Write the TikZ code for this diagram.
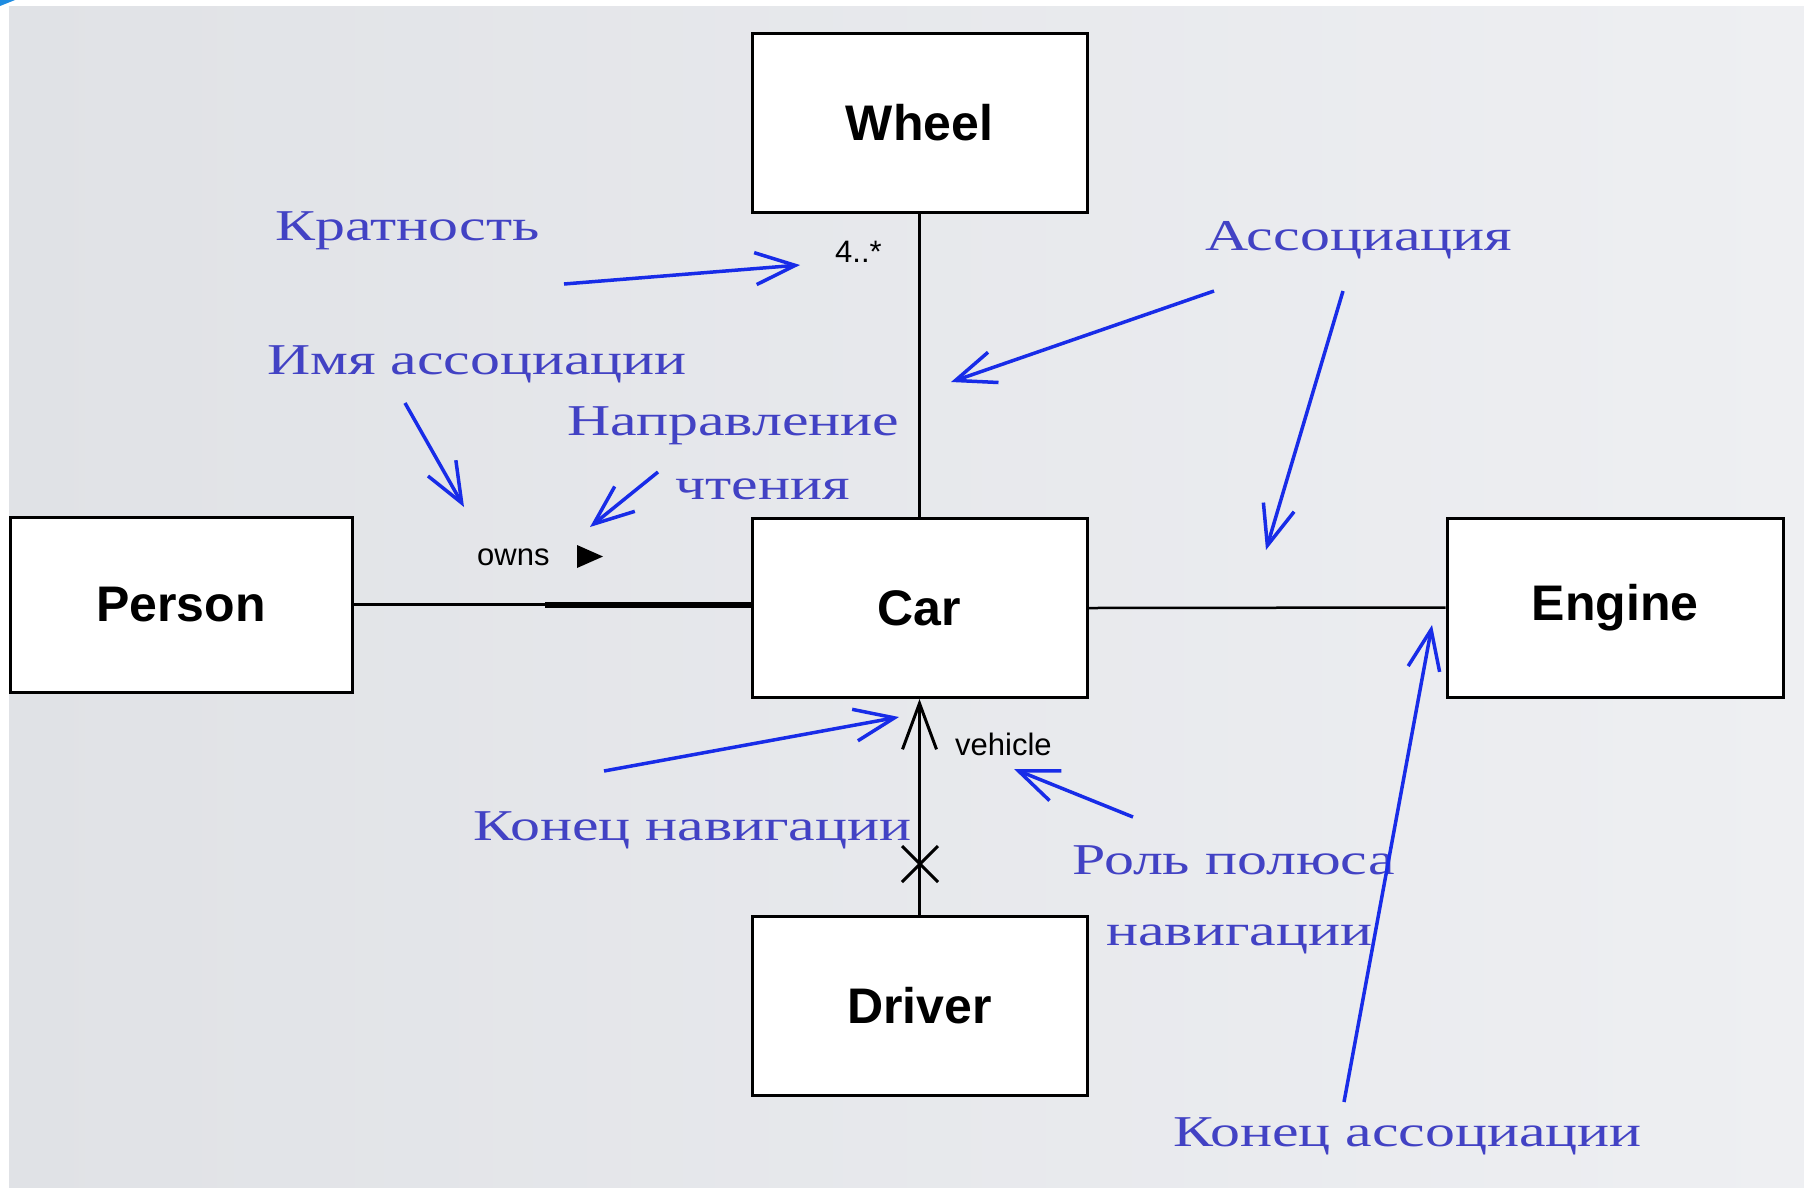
\documentclass[tikz,border=0pt]{standalone}
\usepackage{fontspec}
\setmainfont{Liberation Serif}
\newfontfamily\annfont[FakeStretch=1.36]{Liberation Serif}
\newfontfamily\umlfont{Liberation Sans}
\usetikzlibrary{arrows.meta,calc}
\definecolor{anntext}{RGB}{66,66,196}
\definecolor{annarrow}{RGB}{24,44,232}
\definecolor{bgleft}{RGB}{224,226,230}
\definecolor{bgright}{RGB}{238,239,242}
\definecolor{cornerblue}{RGB}{30,140,225}
\begin{document}
\begin{tikzpicture}[x=1pt,y=-1pt,
  cls/.style={draw=black, line width=3pt, fill=white, minimum width=335pt, minimum height=179pt, inner sep=0pt, font=\umlfont\bfseries\fontsize{50}{60}\selectfont},
  anntxt/.style={text=anntext, inner sep=0pt, anchor=base west, font=\annfont\fontsize{44}{50}\selectfont},
  lbl/.style={inner sep=0pt, anchor=base west, font=\umlfont\fontsize{31}{36}\selectfont},
  assocline/.style={line width=3pt},
  annarr/.style={annarrow, line width=3.5pt, -{Straight Barb[length=40pt,width=32pt]}},
  navarr/.style={line width=3pt, -{Straight Barb[length=46pt,width=34pt]}}]
\useasboundingbox (0,0) rectangle (1804,1187);
\fill[white] (0,0) rectangle (1804,1187);
\shade[left color=bgleft,right color=bgright] (9,6) rectangle (1804,1187);
\fill[cornerblue] (0,0) -- (15,0) -- (0,6) -- cycle;

% classes
\node[cls] (Wheel) at (919.5,122.5) {Wheel};
\node[cls] (Car) at (919.5,608) {Car};
\node[cls, minimum width=342pt, minimum height=175pt] (Person) at (181,604.5) {Person};
\node[cls, minimum width=336pt] (Engine) at (1615,607.5) {Engine};
\node[cls] (Driver) at (919.5,1006) {Driver};

% associations
\draw[assocline] (Wheel.south) -- (Car.north);
\draw[line width=3.5pt] (Person.east) -- (Person.east -| Car.west);
\coordinate (thickstart) at (545,604.5);
\draw[line width=6pt] (thickstart) -- (thickstart -| Car.west);
\draw[line width=2.5pt] (Car.east) -- (Engine.west);
\draw[navarr] (Driver.north) -- (Car.south);
\coordinate (xc) at (920,864);
\draw[line width=3pt] ($(xc)+(-18,-18)$) -- ($(xc)+(18,18)$);
\draw[line width=3pt] ($(xc)+(18,-18)$) -- ($(xc)+(-18,18)$);

% small labels
\node[lbl, font=\umlfont\fontsize{31}{36}\selectfont] (mult) at (835,262) {4..*};
\node[lbl] (owns) at (477,565) {owns};
\coordinate (tri) at (577,545);
\fill (tri) -- ++(26,11.5) -- ++(-26,11.5) -- cycle;
\node[lbl] (vehicle) at (955,755) {vehicle};

% annotations
\node[anntxt] (tKrat) at (275,240) {Кратность};
\node[anntxt] (tAssoc) at (1205,250) {Ассоциация};
\node[anntxt] (tImya) at (267,374) {Имя ассоциации};
\node[anntxt] (tNapr) at (567,435) {Направление};
\node[anntxt] (tCht) at (675,499) {чтения};
\node[anntxt] (tKN) at (473,840) {Конец навигации};
\node[anntxt] (tRol) at (1072,874) {Роль полюса};
\node[anntxt] (tNav) at (1106,945) {навигации};
\node[anntxt] (tKA) at (1173,1146) {Конец ассоциации};

% annotation arrows
\coordinate (a1s) at (564,284);  \coordinate (a1e) at (800,265);
\coordinate (a2s) at (1214,291); \coordinate (a2e) at (951,382);
\coordinate (a3s) at (1343,291); \coordinate (a3e) at (1266,550);
\coordinate (a4s) at (405,403);  \coordinate (a4e) at (464,507);
\coordinate (a5s) at (658,472);  \coordinate (a5e) at (590,527);
\coordinate (a6s) at (604,771);  \coordinate (a6e) at (899,717);
\coordinate (a7s) at (1133,817); \coordinate (a7e) at (1014,769);
\coordinate (a8s) at (1344,1102);\coordinate (a8e) at (1432,625);
\foreach \i in {1,...,8} {\draw[annarr] (a\i s) -- (a\i e);}
\end{tikzpicture}
\end{document}
